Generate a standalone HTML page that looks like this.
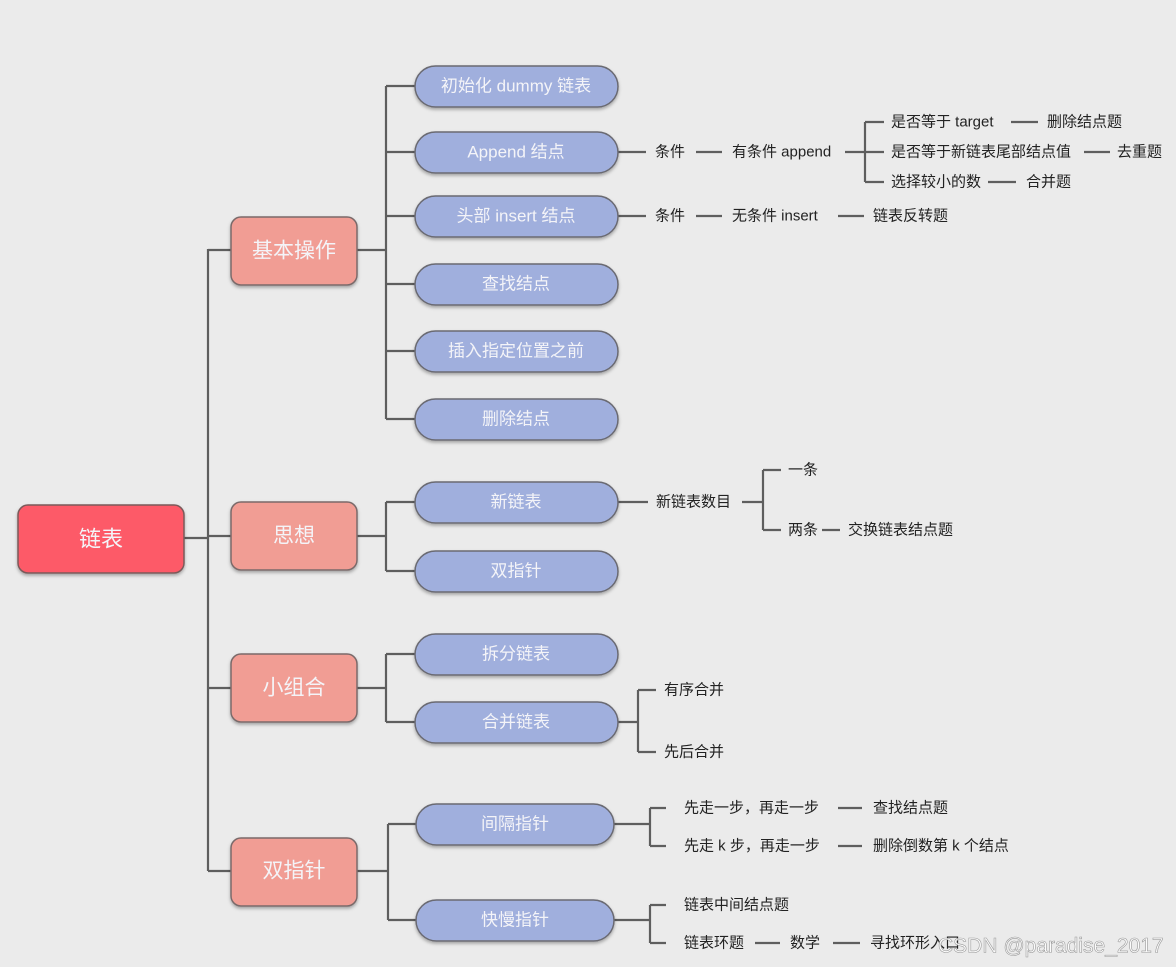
<!DOCTYPE html>
<html><head><meta charset="utf-8"><style>
html,body{margin:0;padding:0;background:#ebebeb;}
svg{display:block}
text{font-family:"Liberation Sans","Noto Sans CJK SC",sans-serif;dominant-baseline:central}
.l{stroke:#5e5e5e;stroke-width:2.2;fill:none}
.t{font-size:15px;fill:#222}
.n2{fill:#a0afdd;stroke:#6a6a72;stroke-width:1.5}
.n1{fill:#f19d94;stroke:#7a6a6a;stroke-width:1.5}
.w{fill:#f4f4f8;text-anchor:middle}
</style></head><body>
<svg width="1176" height="967" viewBox="0 0 1176 967">
<defs><filter id="s" x="-10%" y="-10%" width="120%" height="140%"><feDropShadow dx="0" dy="2" stdDeviation="1.5" flood-color="#000" flood-opacity="0.3"/></filter></defs>
<!-- trunk -->
<path class="l" d="M184 538H208M208 249V871M208 250H231M208 536H231M208 688H231M208 871H231"/>
<!-- basic bus -->
<path class="l" d="M357 250H386M386 86V419M386 86H415M386 152H415M386 216H415M386 284H415M386 351H415M386 419H415"/>
<path class="l" d="M357 536H386M386 502V571M386 502H415M386 571H415"/>
<path class="l" d="M357 688H386M386 654V722M386 654H415M386 722H415"/>
<path class="l" d="M357 871H388M388 824V920M388 824H416M388 920H416"/>
<!-- right connectors -->
<path class="l" d="M618 152H646M696 152H722M845 152H865M865 122V182M865 122H884M865 152H884M865 182H884M1011 122H1038M1084 152H1110M988 182H1016"/>
<path class="l" d="M618 216H646M696 216H722M838 216H864"/>
<path class="l" d="M618 502H648M742 502H763M763 470V530M763 470H781M763 530H781M822 530H840"/>
<path class="l" d="M618 722H638M638 690V752M638 690H656M638 752H656"/>
<path class="l" d="M614 824H650M650 808V846M650 808H666M650 846H666M838 808H862M838 846H862"/>
<path class="l" d="M614 920H650M650 905V943M650 905H666M650 943H666M755 943H780M833 943H860"/>
<!-- root -->
<rect x="18" y="505" width="166" height="68" rx="10" fill="#fd5a68" stroke="#7a5a5a" stroke-width="1.5" filter="url(#s)"/>
<text x="101" y="539" class="w" font-size="22">链表</text>
<!-- level1 -->
<g filter="url(#s)">
<rect class="n1" x="231" y="217" width="126" height="68" rx="10"/>
<rect class="n1" x="231" y="502" width="126" height="68" rx="10"/>
<rect class="n1" x="231" y="654" width="126" height="68" rx="10"/>
<rect class="n1" x="231" y="838" width="126" height="68" rx="10"/>
</g>
<text x="294" y="251" class="w" font-size="21">基本操作</text>
<text x="294" y="536" class="w" font-size="21">思想</text>
<text x="294" y="688" class="w" font-size="21">小组合</text>
<text x="294" y="871" class="w" font-size="21">双指针</text>
<!-- level2 -->
<g filter="url(#s)">
<rect class="n2" x="415" y="66" width="203" height="41" rx="20.5"/>
<rect class="n2" x="415" y="132" width="203" height="41" rx="20.5"/>
<rect class="n2" x="415" y="196" width="203" height="41" rx="20.5"/>
<rect class="n2" x="415" y="264" width="203" height="41" rx="20.5"/>
<rect class="n2" x="415" y="331" width="203" height="41" rx="20.5"/>
<rect class="n2" x="415" y="399" width="203" height="41" rx="20.5"/>
<rect class="n2" x="415" y="482" width="203" height="41" rx="20.5"/>
<rect class="n2" x="415" y="551" width="203" height="41" rx="20.5"/>
<rect class="n2" x="415" y="634" width="203" height="41" rx="20.5"/>
<rect class="n2" x="415" y="702" width="203" height="41" rx="20.5"/>
<rect class="n2" x="416" y="804" width="198" height="41" rx="20.5"/>
<rect class="n2" x="416" y="900" width="198" height="41" rx="20.5"/>
</g>
<g class="w" font-size="17">
<text x="516" y="86">初始化 dummy 链表</text>
<text x="516" y="152">Append 结点</text>
<text x="516" y="216">头部 insert 结点</text>
<text x="516" y="284">查找结点</text>
<text x="516" y="351">插入指定位置之前</text>
<text x="516" y="419">删除结点</text>
<text x="516" y="502">新链表</text>
<text x="516" y="571">双指针</text>
<text x="516" y="654">拆分链表</text>
<text x="516" y="722">合并链表</text>
<text x="515" y="824">间隔指针</text>
<text x="515" y="920">快慢指针</text>
</g>
<g class="t">
<text x="655" y="152">条件</text>
<text x="732" y="152">有条件 append</text>
<text x="891" y="122">是否等于 target</text>
<text x="1047" y="122">删除结点题</text>
<text x="891" y="152">是否等于新链表尾部结点值</text>
<text x="1117" y="152">去重题</text>
<text x="891" y="182">选择较小的数</text>
<text x="1026" y="182">合并题</text>
<text x="655" y="216">条件</text>
<text x="732" y="216">无条件 insert</text>
<text x="873" y="216">链表反转题</text>
<text x="656" y="502">新链表数目</text>
<text x="788" y="470">一条</text>
<text x="788" y="530">两条</text>
<text x="848" y="530">交换链表结点题</text>
<text x="664" y="690">有序合并</text>
<text x="664" y="752">先后合并</text>
<text x="684" y="808">先走一步，再走一步</text>
<text x="873" y="808">查找结点题</text>
<text x="684" y="846">先走 k 步，再走一步</text>
<text x="873" y="846">删除倒数第 k 个结点</text>
<text x="684" y="905">链表中间结点题</text>
<text x="684" y="943">链表环题</text>
<text x="790" y="943">数学</text>
<text x="870" y="943">寻找环形入口</text>
</g>
<text x="938" y="946" font-size="21" fill="#ffffff" fill-opacity="0.85" stroke="#9a9a9a" stroke-width="0.6">CSDN @paradise_2017</text>
</svg>
</body></html>
